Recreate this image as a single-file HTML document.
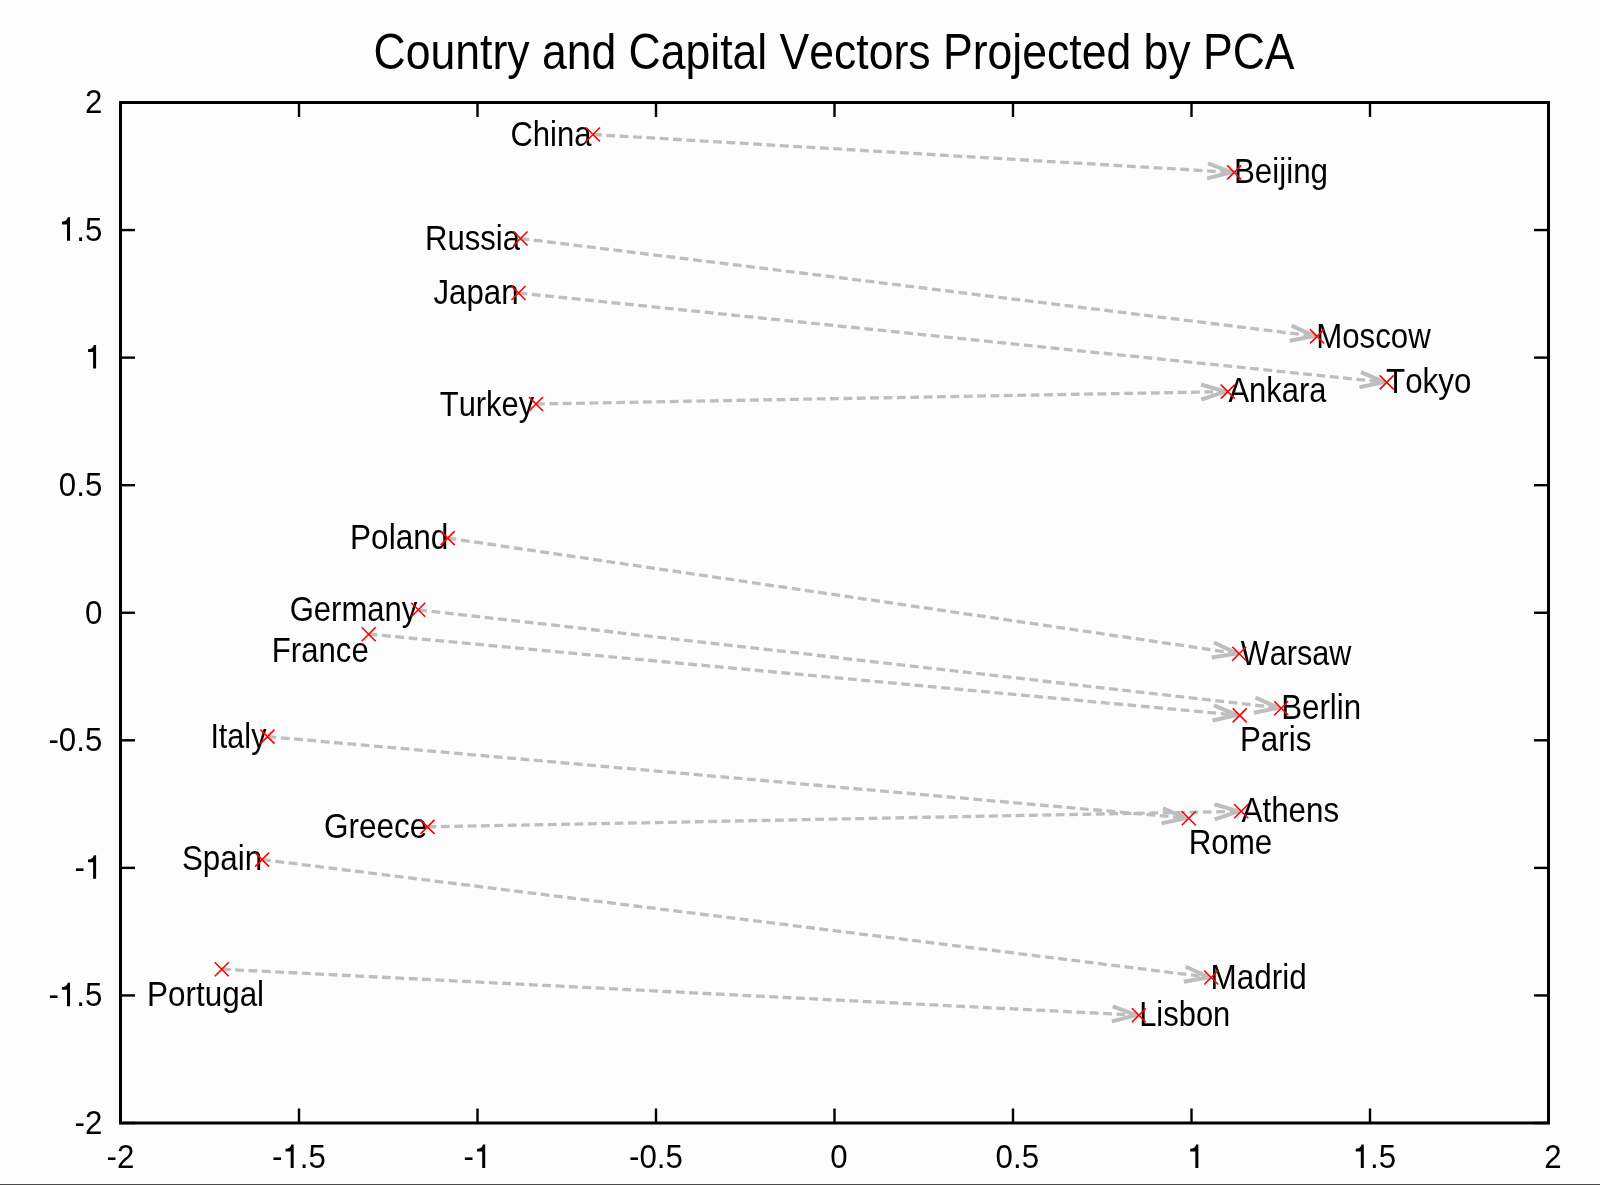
<!DOCTYPE html><html><head><meta charset="utf-8"><title>Country and Capital Vectors Projected by PCA</title><style>html,body{margin:0;padding:0;background:#fdfdfd;width:1600px;height:1185px;overflow:hidden}svg{position:absolute;left:0;top:0;filter:blur(0.4px)}text{font-family:"Liberation Sans",sans-serif;font-kerning:none}</style></head><body>
<svg width="1600" height="1185" viewBox="0 0 1600 1185">
<rect x="0" y="1183" width="1600" height="1" fill="#ffffff"/><rect x="0" y="1184" width="1600" height="1" fill="#4a4a4a"/>
<text x="373.54" y="69" font-size="49.6" textLength="921.05" lengthAdjust="spacingAndGlyphs" fill="#000">Country and Capital Vectors Projected by PCA</text>
<g stroke="#bebebe" stroke-width="3.3" stroke-dasharray="8.8 4.57" fill="none"><line x1="593" y1="134.5" x2="1231.60" y2="172.25"/><line x1="520.5" y1="238.5" x2="1314.52" y2="336.08"/><line x1="518.5" y1="293" x2="1384.11" y2="382.13"/><line x1="536" y1="404" x2="1225.20" y2="391.65"/><line x1="447.7" y1="538.1" x2="1236.63" y2="653.42"/><line x1="418.3" y1="609.8" x2="1278.62" y2="707.91"/><line x1="368.7" y1="634.2" x2="1237.11" y2="715.16"/><line x1="267.5" y1="736.6" x2="1186.21" y2="817.97"/><line x1="427.5" y1="826.9" x2="1238.60" y2="811.35"/><line x1="262.1" y1="859.6" x2="1208.62" y2="977.18"/><line x1="221.8" y1="969.2" x2="1136.30" y2="1015.07"/></g>
<g stroke="#bebebe" stroke-width="4" fill="none" stroke-linejoin="round"><path d="M1207.17,178.39 L1231.60,172.25 L1208.06,163.26"/><path d="M1289.74,340.67 L1314.52,336.08 L1291.59,325.63"/><path d="M1359.43,387.21 L1384.11,382.13 L1360.98,372.13"/><path d="M1201.31,399.65 L1225.20,391.65 L1201.03,384.50"/><path d="M1211.75,657.45 L1236.63,653.42 L1213.94,642.45"/><path d="M1253.88,712.71 L1278.62,707.91 L1255.60,697.65"/><path d="M1212.48,720.47 L1237.11,715.16 L1213.88,705.38"/><path d="M1161.60,823.40 L1186.21,817.97 L1162.94,808.30"/><path d="M1214.72,819.39 L1238.60,811.35 L1214.43,804.23"/><path d="M1183.84,981.74 L1208.62,977.18 L1185.70,966.70"/><path d="M1111.92,1021.43 L1136.30,1015.07 L1112.68,1006.30"/></g>
<rect x="120.5" y="102.5" width="1428.0" height="1020.5" fill="none" stroke="#000" stroke-width="3"/>
<g stroke="#000" stroke-width="2.4"><line x1="120.50" y1="102.5" x2="120.50" y2="117.0"/><line x1="120.50" y1="1123.0" x2="120.50" y2="1108.5"/><line x1="120.5" y1="102.50" x2="135.0" y2="102.50"/><line x1="1548.5" y1="102.50" x2="1534.0" y2="102.50"/><line x1="299.00" y1="102.5" x2="299.00" y2="117.0"/><line x1="299.00" y1="1123.0" x2="299.00" y2="1108.5"/><line x1="120.5" y1="230.06" x2="135.0" y2="230.06"/><line x1="1548.5" y1="230.06" x2="1534.0" y2="230.06"/><line x1="477.50" y1="102.5" x2="477.50" y2="117.0"/><line x1="477.50" y1="1123.0" x2="477.50" y2="1108.5"/><line x1="120.5" y1="357.62" x2="135.0" y2="357.62"/><line x1="1548.5" y1="357.62" x2="1534.0" y2="357.62"/><line x1="656.00" y1="102.5" x2="656.00" y2="117.0"/><line x1="656.00" y1="1123.0" x2="656.00" y2="1108.5"/><line x1="120.5" y1="485.19" x2="135.0" y2="485.19"/><line x1="1548.5" y1="485.19" x2="1534.0" y2="485.19"/><line x1="834.50" y1="102.5" x2="834.50" y2="117.0"/><line x1="834.50" y1="1123.0" x2="834.50" y2="1108.5"/><line x1="120.5" y1="612.75" x2="135.0" y2="612.75"/><line x1="1548.5" y1="612.75" x2="1534.0" y2="612.75"/><line x1="1013.00" y1="102.5" x2="1013.00" y2="117.0"/><line x1="1013.00" y1="1123.0" x2="1013.00" y2="1108.5"/><line x1="120.5" y1="740.31" x2="135.0" y2="740.31"/><line x1="1548.5" y1="740.31" x2="1534.0" y2="740.31"/><line x1="1191.50" y1="102.5" x2="1191.50" y2="117.0"/><line x1="1191.50" y1="1123.0" x2="1191.50" y2="1108.5"/><line x1="120.5" y1="867.88" x2="135.0" y2="867.88"/><line x1="1548.5" y1="867.88" x2="1534.0" y2="867.88"/><line x1="1370.00" y1="102.5" x2="1370.00" y2="117.0"/><line x1="1370.00" y1="1123.0" x2="1370.00" y2="1108.5"/><line x1="120.5" y1="995.44" x2="135.0" y2="995.44"/><line x1="1548.5" y1="995.44" x2="1534.0" y2="995.44"/><line x1="1548.50" y1="102.5" x2="1548.50" y2="117.0"/><line x1="1548.50" y1="1123.0" x2="1548.50" y2="1108.5"/><line x1="120.5" y1="1123.00" x2="135.0" y2="1123.00"/><line x1="1548.5" y1="1123.00" x2="1534.0" y2="1123.00"/></g>
<g font-size="34" fill="#000"><g transform="translate(106.59,1167.9) scale(0.92,1)"><text x="0.00" y="0">-</text><text x="11.32" y="0">2</text></g><g transform="translate(272.05,1167.9) scale(0.92,1)"><text x="0.00" y="0">-</text><path d="M23.50,0 L23.50,-23.5 L21.10,-23.5 C20.24,-20.8 18.50,-19.3 14.69,-19.1 L14.69,-16.4 L20.24,-16.4 L20.24,0 Z"/><text x="30.23" y="0">.</text><text x="39.68" y="0">5</text></g><g transform="translate(463.59,1167.9) scale(0.92,1)"><text x="0.00" y="0">-</text><path d="M23.50,0 L23.50,-23.5 L21.10,-23.5 C20.24,-20.8 18.50,-19.3 14.69,-19.1 L14.69,-16.4 L20.24,-16.4 L20.24,0 Z"/></g><g transform="translate(629.05,1167.9) scale(0.92,1)"><text x="0.00" y="0">-</text><text x="11.32" y="0">0</text><text x="30.23" y="0">.</text><text x="39.68" y="0">5</text></g><g transform="translate(821.46,1167.9) scale(0.92,1)"><text x="9.45" y="0">0</text></g><g transform="translate(986.91,1167.9) scale(0.92,1)"><text x="9.45" y="0">0</text><text x="28.36" y="0">.</text><text x="37.80" y="0">5</text></g><g transform="translate(1178.46,1167.9) scale(0.92,1)"><path d="M21.62,0 L21.62,-23.5 L19.23,-23.5 C18.36,-20.8 16.62,-19.3 12.82,-19.1 L12.82,-16.4 L18.36,-16.4 L18.36,0 Z"/></g><g transform="translate(1343.91,1167.9) scale(0.92,1)"><path d="M21.62,0 L21.62,-23.5 L19.23,-23.5 C18.36,-20.8 16.62,-19.3 12.82,-19.1 L12.82,-16.4 L18.36,-16.4 L18.36,0 Z"/><text x="28.36" y="0">.</text><text x="37.80" y="0">5</text></g><g transform="translate(1535.46,1167.9) scale(0.92,1)"><text x="9.45" y="0">2</text></g><g transform="translate(84.90,113.3) scale(0.92,1)"><text x="0.00" y="0">2</text></g><g transform="translate(58.82,240.86) scale(0.92,1)"><path d="M12.17,0 L12.17,-23.5 L9.78,-23.5 C8.91,-20.8 7.17,-19.3 3.37,-19.1 L3.37,-16.4 L8.91,-16.4 L8.91,0 Z"/><text x="18.91" y="0">.</text><text x="28.36" y="0">5</text></g><g transform="translate(84.90,368.43) scale(0.92,1)"><path d="M12.17,0 L12.17,-23.5 L9.78,-23.5 C8.91,-20.8 7.17,-19.3 3.37,-19.1 L3.37,-16.4 L8.91,-16.4 L8.91,0 Z"/></g><g transform="translate(58.82,495.99) scale(0.92,1)"><text x="0.00" y="0">0</text><text x="18.91" y="0">.</text><text x="28.36" y="0">5</text></g><g transform="translate(84.90,623.55) scale(0.92,1)"><text x="0.00" y="0">0</text></g><g transform="translate(48.40,751.11) scale(0.92,1)"><text x="0.00" y="0">-</text><text x="11.32" y="0">0</text><text x="30.23" y="0">.</text><text x="39.68" y="0">5</text></g><g transform="translate(74.49,878.67) scale(0.92,1)"><text x="0.00" y="0">-</text><path d="M23.50,0 L23.50,-23.5 L21.10,-23.5 C20.24,-20.8 18.50,-19.3 14.69,-19.1 L14.69,-16.4 L20.24,-16.4 L20.24,0 Z"/></g><g transform="translate(48.40,1006.24) scale(0.92,1)"><text x="0.00" y="0">-</text><path d="M23.50,0 L23.50,-23.5 L21.10,-23.5 C20.24,-20.8 18.50,-19.3 14.69,-19.1 L14.69,-16.4 L20.24,-16.4 L20.24,0 Z"/><text x="30.23" y="0">.</text><text x="39.68" y="0">5</text></g><g transform="translate(74.49,1133.8) scale(0.92,1)"><text x="0.00" y="0">-</text><text x="11.32" y="0">2</text></g></g>
<g font-size="34.5" fill="#000"><text x="510.42" y="145.5" textLength="81.08" lengthAdjust="spacingAndGlyphs">China</text><text x="1233.93" y="182.5" textLength="94.09" lengthAdjust="spacingAndGlyphs">Beijing</text><text x="424.95" y="249.5" textLength="95.05" lengthAdjust="spacingAndGlyphs">Russia</text><text x="433.51" y="304" textLength="85.01" lengthAdjust="spacingAndGlyphs">Japan</text><text x="439.81" y="416" textLength="94.25" lengthAdjust="spacingAndGlyphs">Turkey</text><text x="1316.24" y="347.8" textLength="114.48" lengthAdjust="spacingAndGlyphs">Moscow</text><text x="1386.10" y="393.3" textLength="85.22" lengthAdjust="spacingAndGlyphs">Tokyo</text><text x="1228.44" y="402.25" textLength="97.96" lengthAdjust="spacingAndGlyphs">Ankara</text><text x="350.01" y="548.7" textLength="98.43" lengthAdjust="spacingAndGlyphs">Poland</text><text x="289.69" y="621.1" textLength="127.67" lengthAdjust="spacingAndGlyphs">Germany</text><text x="271.84" y="661.6" textLength="96.94" lengthAdjust="spacingAndGlyphs">France</text><text x="1240.87" y="665.06" textLength="110.46" lengthAdjust="spacingAndGlyphs">Warsaw</text><text x="1281.19" y="719.06" textLength="79.90" lengthAdjust="spacingAndGlyphs">Berlin</text><text x="1239.93" y="750.9" textLength="71.51" lengthAdjust="spacingAndGlyphs">Paris</text><text x="210.38" y="747.6" textLength="56.08" lengthAdjust="spacingAndGlyphs">Italy</text><text x="324.02" y="837.9" textLength="103.28" lengthAdjust="spacingAndGlyphs">Greece</text><text x="181.98" y="870.4" textLength="80.16" lengthAdjust="spacingAndGlyphs">Spain</text><text x="147.02" y="1006" textLength="117.08" lengthAdjust="spacingAndGlyphs">Portugal</text><text x="1241.54" y="822.25" textLength="97.59" lengthAdjust="spacingAndGlyphs">Athens</text><text x="1188.63" y="853.8" textLength="83.67" lengthAdjust="spacingAndGlyphs">Rome</text><text x="1210.52" y="989.1" textLength="96.16" lengthAdjust="spacingAndGlyphs">Madrid</text><text x="1139.16" y="1026.1" textLength="91.15" lengthAdjust="spacingAndGlyphs">Lisbon</text></g>
<g stroke="#ff0000" stroke-width="1.6" fill="none"><path d="M586,127.5 L600,141.5 M586,141.5 L600,127.5"/><path d="M1227.2,165.4 L1241.2,179.4 M1227.2,179.4 L1241.2,165.4"/><path d="M513.5,231.5 L527.5,245.5 M513.5,245.5 L527.5,231.5"/><path d="M1310.1,329.4 L1324.1,343.4 M1310.1,343.4 L1324.1,329.4"/><path d="M511.5,286 L525.5,300 M511.5,300 L525.5,286"/><path d="M1379.7,375.4 L1393.7,389.4 M1379.7,389.4 L1393.7,375.4"/><path d="M529,397 L543,411 M529,411 L543,397"/><path d="M1220.8,384.6 L1234.8,398.6 M1220.8,398.6 L1234.8,384.6"/><path d="M440.7,531.1 L454.7,545.1 M440.7,545.1 L454.7,531.1"/><path d="M1232.2,646.8 L1246.2,660.8 M1232.2,660.8 L1246.2,646.8"/><path d="M411.3,602.8 L425.3,616.8 M411.3,616.8 L425.3,602.8"/><path d="M1274.2,701.2 L1288.2,715.2 M1274.2,715.2 L1288.2,701.2"/><path d="M361.7,627.2 L375.7,641.2 M361.7,641.2 L375.7,627.2"/><path d="M1232.7,708.4 L1246.7,722.4 M1232.7,722.4 L1246.7,708.4"/><path d="M260.5,729.6 L274.5,743.6 M260.5,743.6 L274.5,729.6"/><path d="M1181.8,811.2 L1195.8,825.2 M1181.8,825.2 L1195.8,811.2"/><path d="M420.5,819.9 L434.5,833.9 M420.5,833.9 L434.5,819.9"/><path d="M1234.2,804.3 L1248.2,818.3 M1234.2,818.3 L1248.2,804.3"/><path d="M255.10000000000002,852.6 L269.1,866.6 M255.10000000000002,866.6 L269.1,852.6"/><path d="M1204.2,970.5 L1218.2,984.5 M1204.2,984.5 L1218.2,970.5"/><path d="M214.8,962.2 L228.8,976.2 M214.8,976.2 L228.8,962.2"/><path d="M1131.9,1008.2 L1145.9,1022.2 M1131.9,1022.2 L1145.9,1008.2"/></g>
</svg></body></html>
